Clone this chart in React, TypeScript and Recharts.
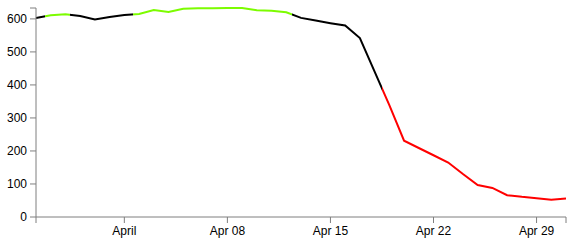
import React from 'react';
import { LineChart, Line, XAxis, YAxis } from 'recharts';

const dates = [
  '2013-03-26', '2013-03-27', '2013-03-28', '2013-03-29', '2013-03-30', '2013-03-31',
  '2013-04-01', '2013-04-02', '2013-04-03', '2013-04-04', '2013-04-05', '2013-04-06',
  '2013-04-07', '2013-04-08', '2013-04-09', '2013-04-10', '2013-04-11', '2013-04-12',
  '2013-04-13', '2013-04-14', '2013-04-15', '2013-04-16', '2013-04-17', '2013-04-18',
  '2013-04-19', '2013-04-20', '2013-04-21', '2013-04-22', '2013-04-23', '2013-04-24',
  '2013-04-25', '2013-04-26', '2013-04-27', '2013-04-28', '2013-04-29', '2013-04-30',
  '2013-05-01',
];

const values = [
  603, 611, 614, 609, 598, 606,
  612, 615, 627, 621, 631, 632,
  632, 633, 633, 626, 625, 620,
  603, 595, 587, 580, 542, 440,
  339, 231, 209, 187, 165, 130,
  97, 88, 66, 61, 57, 52,
  56,
];

// tick dates and their labels
const tickDates = ['2013-04-01', '2013-04-08', '2013-04-15', '2013-04-22', '2013-04-29'];
const tickLabels = ['April', 'Apr 08', 'Apr 15', 'Apr 22', 'Apr 29'];
const yTicks = [0, 100, 200, 300, 400, 500, 600];

// where the line colour changes (days after the first date) and segment colours
const colorBreaks = [0.6, 2.3, 6.6, 17.4, 23.5];
const segmentColors = ['#000000', '#7cfc00', '#000000', '#7cfc00', '#000000', '#ff0000'];

const DAY = 86400000;
const toTime = (d: string) => Date.parse(d);

const data = dates.map((d, i) => ({ t: toTime(d), value: values[i] }));

const tStart = toTime(dates[0]);
const tEnd = toTime(dates[dates.length - 1]);
const vMax = Math.max(...values);

const labelFor: Record<number, string> = {};
tickDates.forEach((d, i) => {
  labelFor[toTime(d)] = tickLabels[i];
});
const xTicks = [tStart, ...tickDates.map(toTime), tEnd];

const spanDays = (tEnd - tStart) / DAY;

export default function App() {
  const stops: React.ReactNode[] = [];
  segmentColors.forEach((c, i) => {
    const from = i === 0 ? 0 : colorBreaks[i - 1] / spanDays;
    const to = i === colorBreaks.length ? 1 : colorBreaks[i] / spanDays;
    stops.push(<stop key={`a${i}`} offset={from} stopColor={c} />);
    stops.push(<stop key={`b${i}`} offset={to} stopColor={c} />);
  });

  const axisStyle = { fontFamily: 'Liberation Sans, Arial, sans-serif', fontSize: 12, fill: '#000' };

  return (
    <div style={{ position: 'absolute', left: 0, top: 0 }}>
      <LineChart
        width={576}
        height={243}
        data={data}
        margin={{ top: 8, right: 10, bottom: 0, left: 0 }}
      >
        <defs>
          <linearGradient id="segColor" x1="0" y1="0" x2="1" y2="0">
            {stops}
          </linearGradient>
        </defs>
        <XAxis
          dataKey="t"
          type="number"
          domain={[tStart, tEnd]}
          ticks={xTicks}
          tickFormatter={(v: number) => labelFor[v] ?? ''}
          interval={0}
          tickSize={6}
          tickMargin={3}
          stroke="#7f7f7f"
          tick={axisStyle}
          height={26}
        />
        <YAxis
          type="number"
          domain={[0, vMax]}
          ticks={[...yTicks, vMax]}
          tickFormatter={(v: number) => (yTicks.includes(v) ? String(v) : '')}
          interval={0}
          tickSize={6}
          tickMargin={3}
          stroke="#7f7f7f"
          tick={axisStyle}
          width={36}
        />
        <Line
          type="linear"
          dataKey="value"
          stroke="url(#segColor)"
          strokeWidth={2}
          dot={false}
          activeDot={false}
          isAnimationActive={false}
        />
      </LineChart>
    </div>
  );
}
